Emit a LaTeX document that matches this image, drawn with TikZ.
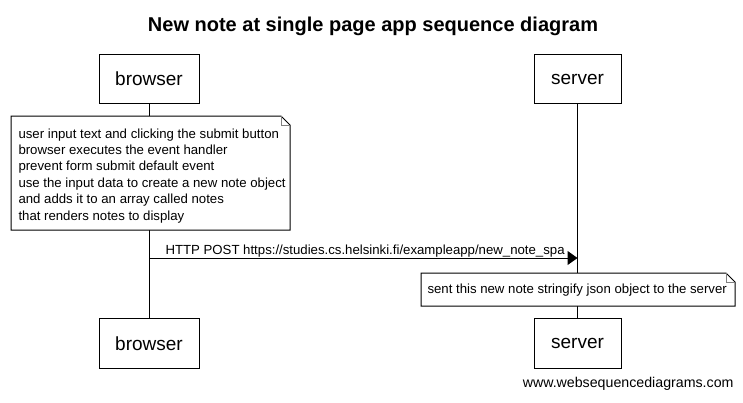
\documentclass[tikz,border=0pt]{standalone}
\usepackage{fontspec}
\setmainfont{Liberation Sans}
\usetikzlibrary{arrows.meta}
\begin{document}
\begin{tikzpicture}[x=1pt,y=-1pt,line width=1pt,
  actor/.style={draw=black,fill=white,minimum width=100pt,minimum height=49.5pt,inner sep=0pt,font=\fontsize{19}{22}\selectfont},
  sactor/.style={actor,minimum width=87pt},
  notebox/.style={inner sep=0pt,anchor=north west},
  notetext/.style={font=\fontsize{13.2}{16.4}\selectfont,align=left,inner sep=0pt,anchor=north west},
  msg/.style={-{Triangle[length=10pt,width=14pt]}},
  lbl/.style={font=\fontsize{13.2}{16}\selectfont,inner sep=0pt,anchor=base west}]
\useasboundingbox (0,0) rectangle (743,402);
\fill[white] (0,0) rectangle (743,402);
% title
\node[font=\bfseries\fontsize{20}{24}\selectfont,anchor=base,inner sep=0pt] (title) at (373,31) {New note at single page app sequence diagram};
% actors
\node[actor] (bt) at (149,79) {browser};
\node[sactor] (st) at (577.5,79) {server};
\node[actor] (bb) at (149,343.5) {browser};
\node[sactor] (sb) at (577.5,343.5) {server};
% lifelines
\draw (bt.south) -- (bb.north);
\draw (st.south) -- (sb.north);
% note 1
\node[notebox,minimum width=278pt,minimum height=113pt] (n1) at (11,116) {};
\draw[fill=white] (n1.north west) -- ([xshift=-9pt]n1.north east) -- ([yshift=-9pt]n1.north east) -- (n1.south east) -- (n1.south west) -- cycle;
\draw[line width=0.6pt,gray] ([xshift=-9pt]n1.north east) -- ([xshift=-9pt,yshift=-9pt]n1.north east) -- ([yshift=-9pt]n1.north east);
\node[notetext] (n1t) at (18,128) {user input text and clicking the submit button\\browser executes the event handler\\prevent form submit default event\\use the input data to create a new note object\\and adds it to an array called notes\\that renders notes to display};
% message
\coordinate (m1a) at (149,258);
\coordinate (m1b) at (577.5,258);
\draw[msg] (m1a) -- (m1b);
\node[lbl] (m1l) at (165,254) {HTTP POST https://studies.cs.helsinki.fi/exampleapp/new\_note\_spa};
% note 2
\node[notebox,minimum width=313pt,minimum height=32pt] (n2) at (421,273) {};
\draw[fill=white] (n2.north west) -- ([xshift=-9pt]n2.north east) -- ([yshift=-9pt]n2.north east) -- (n2.south east) -- (n2.south west) -- cycle;
\draw[line width=0.6pt,gray] ([xshift=-9pt]n2.north east) -- ([xshift=-9pt,yshift=-9pt]n2.north east) -- ([yshift=-9pt]n2.north east);
\node[lbl] (n2t) at (427,293) {sent this new note stringify json object to the server};
% footer
\node[font=\fontsize{14.2}{16}\selectfont,inner sep=0pt,anchor=base east] (foot) at (734,387) {www.websequencediagrams.com};
\end{tikzpicture}
\end{document}
